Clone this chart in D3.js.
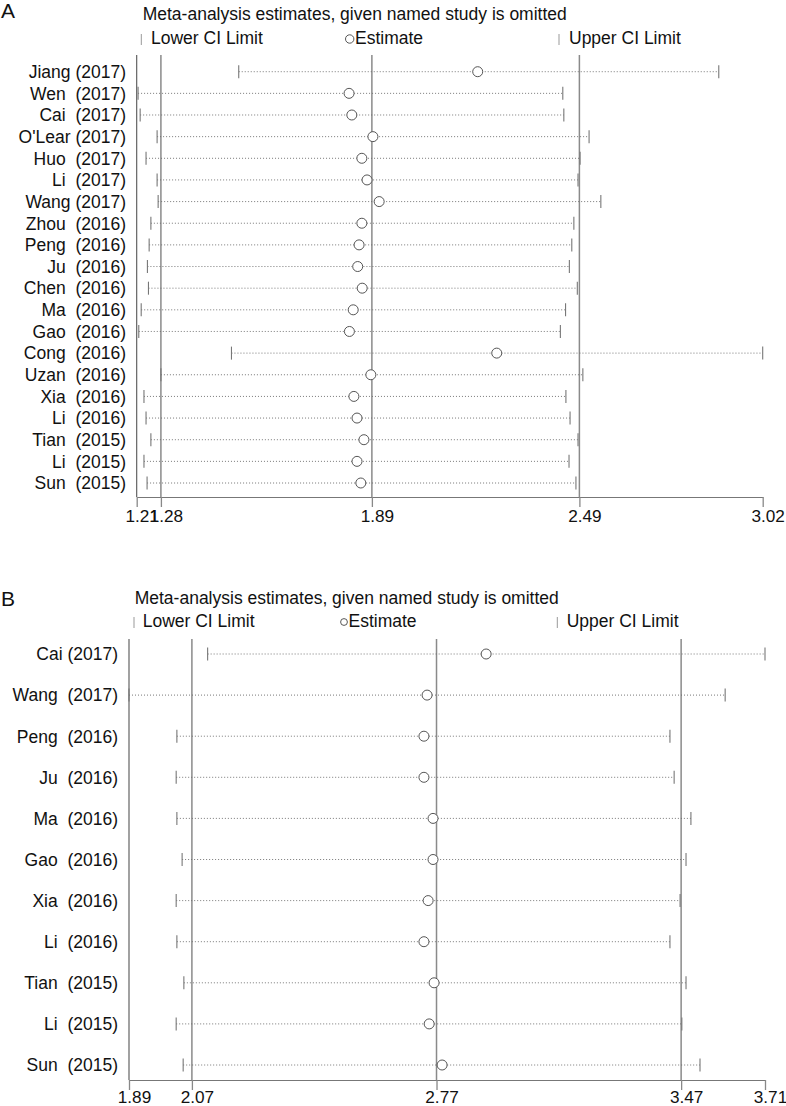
<!DOCTYPE html>
<html><head><meta charset="utf-8">
<script src="https://cdn.jsdelivr.net/npm/d3@7"></script>
<style>
body{margin:0;background:#fff}
text{font-family:"Liberation Sans",Arial,sans-serif;fill:#111}
</style>
</head><body>
<svg id="c" width="786" height="1106"></svg>
<script>
// ---------- Panel A data ----------
const studiesA = ["Jiang (2017)","Wen  (2017)","Cai  (2017)","O'Lear (2017)","Huo  (2017)","Li  (2017)","Wang (2017)","Zhou  (2016)","Peng  (2016)","Ju  (2016)","Chen  (2016)","Ma  (2016)","Gao  (2016)","Cong  (2016)","Uzan  (2016)","Xia  (2016)","Li  (2016)","Tian  (2015)","Li  (2015)","Sun  (2015)"];
const lowerA = [1.505,1.214,1.220,1.269,1.237,1.269,1.272,1.251,1.246,1.241,1.244,1.223,1.216,1.484,1.280,1.231,1.237,1.251,1.231,1.240];
const estA   = [2.196,1.824,1.832,1.893,1.861,1.876,1.911,1.861,1.853,1.849,1.862,1.836,1.825,2.251,1.887,1.838,1.847,1.867,1.847,1.858];
const upperA = [2.893,2.442,2.445,2.518,2.492,2.486,2.552,2.474,2.468,2.461,2.484,2.450,2.435,3.020,2.500,2.451,2.463,2.486,2.460,2.480];
const overallA = [1.28,1.89,2.49];
const ticksA = [1.21,1.28,1.89,2.49,3.02];
const tickLabelsA = ["1.21","1.28","1.89","2.49","3.02"];

// ---------- Panel B data ----------
const studiesB = ["Cai (2017)","Wang  (2017)","Peng  (2016)","Ju  (2016)","Ma  (2016)","Gao  (2016)","Xia  (2016)","Li  (2016)","Tian  (2015)","Li  (2015)","Sun  (2015)"];
const lowerB = [2.115,1.890,2.027,2.025,2.027,2.042,2.025,2.027,2.047,2.025,2.045];
const estB   = [2.912,2.743,2.734,2.734,2.760,2.760,2.746,2.734,2.763,2.749,2.786];
const upperB = [3.710,3.596,3.438,3.450,3.498,3.484,3.467,3.438,3.484,3.472,3.524];
const overallB = [2.07,2.77,3.47];
const ticksB = [1.89,2.07,2.77,3.47,3.71];
const tickLabelsB = ["1.89","2.07","2.77","3.47","3.71"];

const titleText = "Meta-analysis estimates, given named study is omitted";
const legendText = ["Lower CI Limit","Estimate","Upper CI Limit"];

const svg = d3.select("#c");

function panel(o){
  const g = svg.append("g");
  const x = d3.scaleLinear().domain([o.ticks[0], o.ticks[o.ticks.length-1]]).range([o.x0, o.x1]);
  const y = d3.scalePoint().domain(d3.range(o.studies.length)).range([o.yFirst, o.yLast]);

  g.append("text").attr("x", o.letterX).attr("y", o.letterY).attr("font-size", 21).text(o.letter);
  g.append("text").attr("x", o.titleX).attr("y", o.titleY).attr("font-size", 17.5).text(titleText);

  // legend
  const ly = o.legendY;
  g.append("line").attr("x1", o.lgLowBar).attr("x2", o.lgLowBar).attr("y1", ly-10).attr("y2", ly+1)
    .attr("stroke", "#999").attr("stroke-width", 1);
  g.append("text").attr("x", o.lgLowText).attr("y", ly).attr("font-size", 17.5).text(legendText[0]);
  g.append("circle").attr("cx", o.lgCirc).attr("cy", ly-5).attr("r", o.lgR)
    .attr("fill", "none").attr("stroke", "#444").attr("stroke-width", 0.9);
  g.append("text").attr("x", o.lgEstText).attr("y", ly).attr("font-size", 17.5).text(legendText[1]);
  g.append("line").attr("x1", o.lgUpBar).attr("x2", o.lgUpBar).attr("y1", ly-10).attr("y2", ly+1)
    .attr("stroke", "#999").attr("stroke-width", 1);
  g.append("text").attr("x", o.lgUpText).attr("y", ly).attr("font-size", 17.5).text(legendText[2]);

  // reference vertical lines
  g.selectAll("line.ref").data(o.overall).join("line").attr("class","ref")
    .attr("x1", d=>x(d)).attr("x2", d=>x(d)).attr("y1", o.top).attr("y2", o.axisY)
    .attr("stroke", "#8a8a8a").attr("stroke-width", 1.5);
  // left axis
  g.append("line").attr("x1", x(o.ticks[0])).attr("x2", x(o.ticks[0])).attr("y1", o.top).attr("y2", o.axisY)
    .attr("stroke", "#555").attr("stroke-width", 1.1);

  // x axis
  const ax = d3.axisBottom(x).tickValues(o.ticks).tickFormat((d,i)=>o.tickLabels[i]).tickSize(10).tickSizeOuter(0);
  const axG = g.append("g").attr("transform", `translate(0,${o.axisY})`).call(ax);
  axG.attr("font-family", null).attr("font-size", null);
  axG.select(".domain").attr("stroke", "#777").attr("stroke-width", 1.1);
  axG.selectAll(".tick line").attr("stroke", "#888").attr("stroke-width", 1.3);
  axG.selectAll(".tick text").attr("font-size", 17.2).attr("dx", 5).attr("y", o.tickTextY).attr("fill", "#111");

  // row labels
  g.selectAll("text.lab").data(o.studies).join("text").attr("class","lab")
    .attr("x", o.labelX).attr("y", (d,i)=>y(i)).attr("dy", "0.36em")
    .attr("text-anchor", "end").attr("font-size", 17.5).style("white-space", "pre").text(d=>d);

  // CI dotted lines
  g.selectAll("line.ci").data(o.studies).join("line").attr("class","ci")
    .attr("x1", (d,i)=>x(o.lower[i])).attr("x2", (d,i)=>x(o.upper[i]))
    .attr("y1", (d,i)=>y(i)).attr("y2", (d,i)=>y(i))
    .attr("stroke", "#6a6a6a").attr("stroke-width", 0.9).attr("stroke-dasharray", "1,2");
  // CI end ticks
  const ends = [];
  o.studies.forEach((d,i)=>{ ends.push([o.lower[i], i]); ends.push([o.upper[i], i]); });
  g.selectAll("line.end").data(ends).join("line").attr("class","end")
    .attr("x1", d=>x(d[0])).attr("x2", d=>x(d[0]))
    .attr("y1", d=>y(d[1])-6.5).attr("y2", d=>y(d[1])+6.5)
    .attr("stroke", "#777").attr("stroke-width", 1.1);
  // estimates
  g.selectAll("circle.est").data(o.est).join("circle").attr("class","est")
    .attr("cx", d=>x(d)).attr("cy", (d,i)=>y(i)).attr("r", 5)
    .attr("fill", "#fff").attr("stroke", "#555").attr("stroke-width", 1);
}

panel({letter:"A", letterX:1, letterY:18, titleX:142.7, titleY:20, legendY:44,
  lgLowBar:141.3, lgLowText:151, lgCirc:349.7, lgR:4.2, lgEstText:355, lgUpBar:559, lgUpText:569,
  top:55, axisY:497, x0:136.7, x1:762.7, yFirst:71.7, yLast:483, labelX:126, tickTextY:13,
  studies:studiesA, lower:lowerA, est:estA, upper:upperA, overall:overallA, ticks:ticksA, tickLabels:tickLabelsA});

panel({letter:"B", letterX:1, letterY:606, titleX:134.7, titleY:604, legendY:627,
  lgLowBar:134, lgLowText:142.7, lgCirc:344, lgR:3.4, lgEstText:348.5, lgUpBar:557.3, lgUpText:566.7,
  top:639, axisY:1080, x0:129, x1:765, yFirst:654, yLast:1065, labelX:118, tickTextY:11,
  studies:studiesB, lower:lowerB, est:estB, upper:upperB, overall:overallB, ticks:ticksB, tickLabels:tickLabelsB});
</script>
</body></html>
